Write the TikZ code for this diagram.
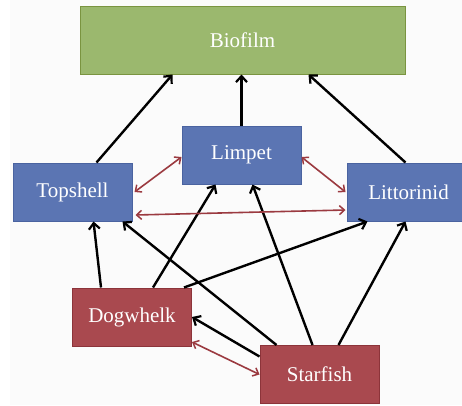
\documentclass[tikz,border=0pt]{standalone}
\usepackage{fontspec}
\setmainfont{Liberation Serif}
\usetikzlibrary{arrows.meta}
\definecolor{bluefill}{HTML}{5B75B3}
\definecolor{blueline}{HTML}{4A63A0}
\definecolor{greenfill}{HTML}{9BB86E}
\definecolor{greenline}{HTML}{7A9440}
\definecolor{redfill}{HTML}{A9494F}
\definecolor{redline}{HTML}{8C343A}
\definecolor{redarrow}{HTML}{9B3A40}
\definecolor{bgc}{HTML}{FBFBFB}
\tikzset{
  box/.style={draw, line width=1pt, minimum width=119pt, minimum height=58pt, inner sep=0pt, text=white, font=\fontsize{21}{24}\selectfont},
  bluebox/.style={box, fill=bluefill, draw=blueline},
  redbox/.style={box, fill=redfill, draw=redline},
  feed/.style={draw=black, line width=2.4pt, -{Straight Barb[length=6pt,width=11pt,line width=2.2pt]}},
  comp/.style={draw=redarrow, line width=1.6pt, {Straight Barb[length=5pt,width=9pt,line width=1.5pt]}-{Straight Barb[length=5pt,width=9pt,line width=1.5pt]}}
}
\begin{document}
\begin{tikzpicture}[x=1pt,y=-1pt]
\useasboundingbox (0,0) rectangle (462,405);
\fill[bgc] (10,0) rectangle (462,405);
\begin{scope}
\clip (0,0) rectangle (462,405);
\node[box, fill=greenfill, draw=greenline, minimum width=325pt, minimum height=68pt] (bio) at (242.5,40) {Biofilm};
\node[bluebox] (lim) at (241.5,155) {Limpet};
\node[bluebox] (top) at (72.5,192) {Topshell};
\node[bluebox] (lit) at (406.5,192) {\hspace*{4pt}Littorinid};
\node[redbox] (dog) at (132,317) {Dogwhelk};
\node[redbox] (star) at (319.5,374.5) {Starfish};
\end{scope}
% feeding links
\draw[feed] ([xshift=24pt]top.north) -- ([xshift=-70pt]bio.south);
\draw[feed] (lim.north) -- ([xshift=-1pt]bio.south);
\draw[feed] ([xshift=-1pt]lit.north) -- ([xshift=66pt]bio.south);
\draw[feed] ([xshift=-31pt]dog.north) -- ([xshift=21pt]top.south);
\draw[feed] ([xshift=21pt]dog.north) -- ([xshift=-26pt]lim.south);
\draw[feed] ([xshift=52pt]dog.north) -- ([xshift=-39pt]lit.south);
\draw[feed] ([xshift=-43pt]star.north) -- ([xshift=50pt]top.south);
\draw[feed] ([xshift=-7pt]star.north) -- ([xshift=11pt]lim.south);
\draw[feed] ([xshift=19pt]star.north) -- ([xshift=-1pt]lit.south);
\draw[feed] ([yshift=18pt]star.west) -- (dog.east);
% competition links
\draw[comp] ([xshift=2pt]top.east) -- ([yshift=-2pt]lim.west);
\draw[comp] ([yshift=-2pt]lim.east) -- ([xshift=-1pt]lit.west);
\draw[comp] ([xshift=3pt,yshift=-23pt]top.east) -- ([xshift=-1pt,yshift=-18pt]lit.west);
\draw[comp] ([yshift=-25pt]dog.east) -- (star.west);
\end{tikzpicture}
\end{document}
